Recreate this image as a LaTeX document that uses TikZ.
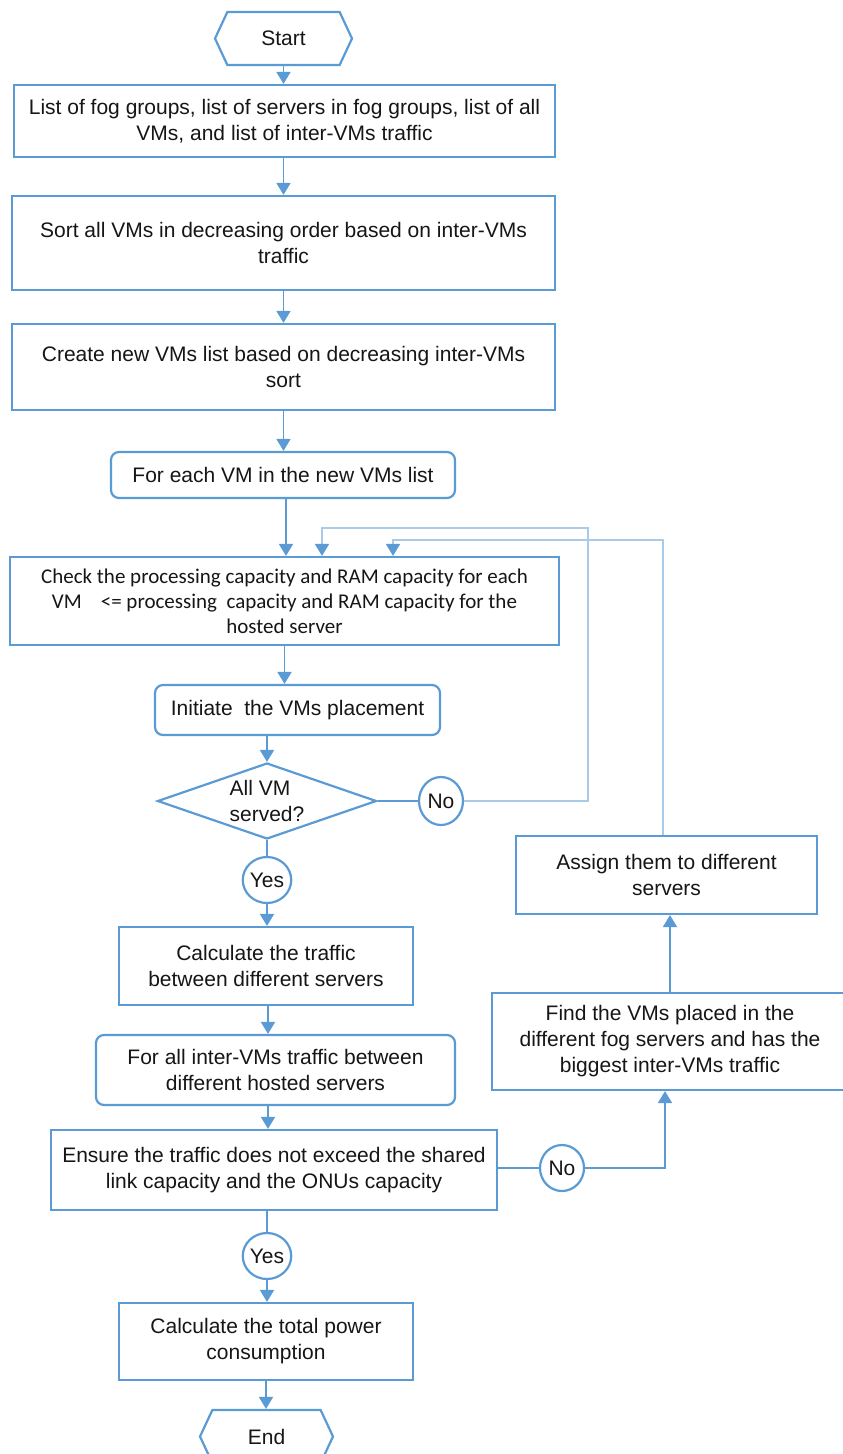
\documentclass[tikz,border=0pt]{standalone}
\usepackage{fontspec}
\setmainfont{Liberation Sans}
\newfontfamily\calfont{Carlito}
\usetikzlibrary{shapes.geometric,shapes.symbols,arrows.meta}
\definecolor{lineblue}{HTML}{5B9BD5}
\definecolor{loopblue}{HTML}{A8CBEA}
\definecolor{ink}{HTML}{161616}

\begin{document}
\begin{tikzpicture}[x=1pt,y=-1pt,
  every node/.style={inner sep=0pt, text=ink, font=\fontsize{21}{26}\selectfont},
  stepbox/.style={draw=lineblue, line width=2.2pt, fill=white, align=center},
  roundbox/.style={stepbox, rounded corners=8pt},
  terminal/.style={draw=lineblue, line width=2.2pt, fill=white, shape=signal,
    signal to=west and east, signal pointer angle=130},
  decision/.style={draw=lineblue, line width=2.2pt, fill=white, shape=diamond},
  answer/.style={draw=lineblue, line width=2.2pt, fill=white, shape=ellipse},
  arr/.style={draw=lineblue, line width=1.8pt, -{Triangle[length=12pt,width=14pt]}},
  link/.style={draw=lineblue, line width=1.8pt},
  back/.style={draw=loopblue, line width=1.8pt,
    -{Triangle[length=12pt,width=14pt,color=lineblue]}}]

\fill[white] (0,0) rectangle (843,1454);
\useasboundingbox (0,0) rectangle (843,1454);

% main column
\node[terminal, minimum width=137, minimum height=53] (start) at (283.5,38.5) {Start};
\node[stepbox, minimum width=541, minimum height=72] (lists) at (284.5,121)
  {List of fog groups, list of servers in fog groups, list of all\\VMs, and list of inter-VMs traffic};
\node[stepbox, minimum width=543, minimum height=94] (sort) at (283.5,243)
  {Sort all VMs in decreasing order based on inter-VMs\\traffic};
\node[stepbox, minimum width=543, minimum height=86] (newlist) at (283.5,367)
  {Create new VMs list based on decreasing inter-VMs\\sort};
\node[roundbox, minimum width=344, minimum height=46] (foreach) at (283,475)
  {For each VM in the new VMs list};
\node[stepbox, minimum width=549, minimum height=88, font=\calfont\fontsize{21}{25}\selectfont] (check) at (284.5,601)
  {Check the processing capacity and RAM capacity for each\\VM\ \ \ \ <= processing\ \ capacity and RAM capacity for the\\hosted server};
\node[roundbox, minimum width=285, minimum height=50] (init) at (297.5,710)
  {Initiate\ \ the VMs placement};
\node[decision, minimum width=219, minimum height=76] (served) at (267,801) {};
\node[align=left] (servedtext) at (267,801) {All VM\\served?};
\node[answer, minimum width=44, minimum height=48] (no1) at (441,801) {No};
\node[answer, minimum width=42, minimum height=46] (yes1) at (267,880) {Yes};
\node[stepbox, minimum width=294, minimum height=78] (calc) at (266,966)
  {Calculate the traffic\\between different servers};
\node[roundbox, minimum width=359, minimum height=70] (forall) at (275.5,1070)
  {For all inter-VMs traffic between\\different hosted servers};
\node[stepbox, minimum width=446, minimum height=80] (ensure) at (274,1170)
  {Ensure the traffic does not exceed the shared\\link capacity and the ONUs capacity};
\node[answer, minimum width=44, minimum height=46] (no2) at (562,1168) {No};
\node[answer, minimum width=42, minimum height=46] (yes2) at (267,1256) {Yes};
\node[stepbox, minimum width=294, minimum height=77] (power) at (266,1341.5)
  {Calculate the total power\\consumption};
\node[terminal, minimum width=133, minimum height=53] (end) at (266.5,1436.5) {End};

% right column
\node[stepbox, minimum width=356, minimum height=97] (find) at (670,1041.5)
  {Find the VMs placed in the\\different fog servers and has the\\biggest inter-VMs traffic};
\node[stepbox, minimum width=301, minimum height=78] (assign) at (666.5,875)
  {Assign them to different\\servers};

% bends of the return paths
\coordinate (ret1up) at (588,528);
\coordinate (ret1in) at (322,528);
\coordinate (ret2up) at (663,540);
\coordinate (ret2in) at (393,540);
\coordinate (no2turn) at (665,1168);

% straight flow
\draw[arr] (start.south) -- (start.south |- lists.north);
\draw[arr] (start.south |- lists.south) -- (start.south |- sort.north);
\draw[arr] (sort.south) -- (sort.south |- newlist.north);
\draw[arr] (newlist.south) -- (newlist.south |- foreach.north);
\draw[arr] (foreach.south) ++(3,0) coordinate (fe) -- (fe |- check.north);
\draw[arr] (check.south) -- (check.south |- init.north);
\draw[arr] (served.north |- init.south) -- (served.north);
\draw[link] (served.south) -- (yes1.north);
\draw[arr] (yes1.south) -- (yes1.south |- calc.north);
\draw[arr] (calc.south) ++(2,0) coordinate (cs) -- (cs |- forall.north);
\draw[arr] (cs |- forall.south) -- (cs |- ensure.north);
\draw[link] (yes2.north |- ensure.south) -- (yes2.north);
\draw[arr] (yes2.south) -- (yes2.south |- power.north);
\draw[arr] (power.south) -- (power.south |- end.north);

% "No" branches
\draw[link] (served.east) -- (no1.west);
\draw[back] (no1.east) -| (ret1up) -- (ret1in) -- (ret1in |- check.north);
\draw[link] (ensure.east |- no2.west) -- (no2.west);
\draw[arr] (no2.east) -- (no2turn) -- (no2turn |- find.south);
\draw[arr] (find.north) -- (find.north |- assign.south);
\draw[back] (ret2up |- assign.north) -- (ret2up) -- (ret2in) -- (ret2in |- check.north);

\end{tikzpicture}
\end{document}
